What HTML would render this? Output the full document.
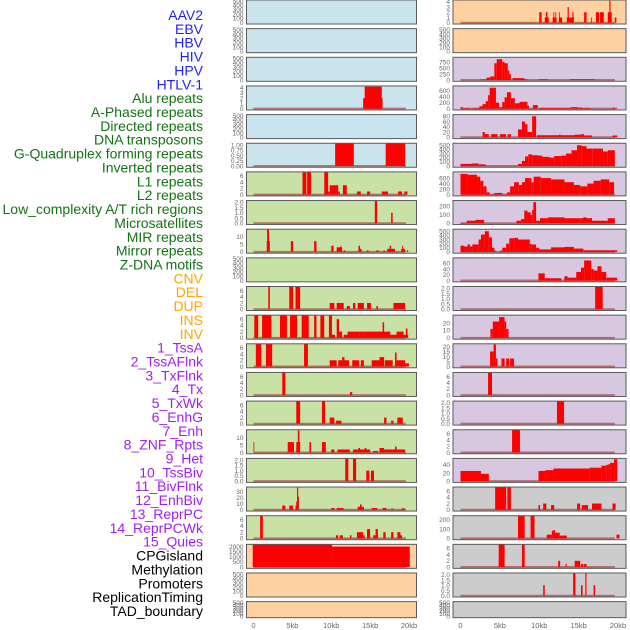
<!DOCTYPE html>
<html><head><meta charset="utf-8">
<style>
html,body{margin:0;padding:0;background:#fff;width:630px;height:630px;overflow:hidden}
svg{display:block;font-family:"Liberation Sans",sans-serif}
</style></head>
<body>
<svg id="chart" width="630" height="630" viewBox="0 0 630 630" xmlns="http://www.w3.org/2000/svg"></svg>
<script>
// ---- data ----
const labelNames = ["AAV2","EBV","HBV","HIV","HPV","HTLV-1","Alu repeats","A-Phased repeats","Directed repeats","DNA transposons","G-Quadruplex forming repeats","Inverted repeats","L1 repeats","L2 repeats","Low_complexity A/T rich regions","Microsatellites","MIR repeats","Mirror repeats","Z-DNA motifs","CNV","DEL","DUP","INS","INV","1_TssA","2_TssAFlnk","3_TxFlnk","4_Tx","5_TxWk","6_EnhG","7_Enh","8_ZNF_Rpts","9_Het","10_TssBiv","11_BivFlnk","12_EnhBiv","13_ReprPC","14_ReprPCWk","15_Quies","CPGisland","Methylation","Promoters","ReplicationTiming","TAD_boundary"];
const labelGroups = [6,13,5,15,5];
const groupColors = ["#1f1fff","#137313","#ffa500","#a020f0","#000000"];
const xTickLabels = ["0","5kb","10kb","15kb","20kb"];
const xTickValues = [0,5,10,15,20];

const T500=[0,100,200,300,400,500], T6=[0,2,4,6], T2=[0,0.5,1.0,1.5,2.0];
const T2L=["0.0","0.5","1.0","1.5","2.0"];
const leftBg = ["#c9e4ec","#c9e4ec","#c9e4ec","#c9e4ec","#c9e4ec","#c9e4ec","#c8e2a6","#c8e2a6","#c8e2a6","#c8e2a6","#c8e2a6","#c8e2a6","#c8e2a6","#c8e2a6","#c8e2a6","#c8e2a6","#c8e2a6","#c8e2a6","#c8e2a6","#ffd0a0","#ffd0a0","#ffd0a0"];
const rightBg = ["#ffd0a0","#ffd0a0","#d7c7e1","#d7c7e1","#d7c7e1","#d7c7e1","#d7c7e1","#d7c7e1","#d7c7e1","#d7c7e1","#d7c7e1","#d7c7e1","#d7c7e1","#d7c7e1","#d7c7e1","#d7c7e1","#d7c7e1","#cccccc","#cccccc","#cccccc","#cccccc","#cccccc"];

const leftTicks = [T500,T500,T500,[0,1,2,3,4],T500,[0,0.25,0.5,0.75,1.0],T6,T2,[0,5,10],T500,T6,T6,T6,T6,T6,[0,5,10],T2,[0,10,20,30],T6,[0,500,1000,1500,2000],T500,T500];
const leftTickLabels = [null,null,null,null,null,["0.00","0.25","0.50","0.75","1.00"],null,T2L,null,null,null,null,null,null,null,null,T2L,null,null,null,null,null];
const leftMax = [520,520,520,4.1,520,1.03,6.9,2.05,14,520,6.9,6.9,6.9,6.9,6.9,14.5,2.05,36,6.9,2100,520,520];
const leftEmpty = [true,true,true,false,true,false,false,false,false,true,false,false,false,false,false,false,false,false,false,false,true,true];

const L3=[[14.1,16.6,2],[14.3,16.5,4.2]];
const L5=[[10.5,12.9,1.2],[17.0,19.5,1.2]];
const L6=[[6.3,6.8,8],[6.9,7.4,8],[9.1,9.6,8],[9.6,9.8,1],[9.8,10.9,3],[10.9,11.1,1],[11.5,12.0,3],[13.3,13.8,1],[14.6,15.0,1],[16.5,17.3,1],[18.6,19.1,1],[19.4,19.8,1]];
const L7=[[15.6,15.9,2.2],[17.7,17.9,1]];
const L8=[[1.7,2.1,7],[1.75,2.0,15],[4.8,5.1,7],[7.8,8.1,7],[10.0,10.3,4],[10.7,11.4,3],[11.2,11.3,4],[11.6,11.8,1],[13.5,13.7,4],[13.7,13.9,2],[14.6,14.8,1],[15.8,16.1,1],[16.7,16.9,1],[17.2,18.2,2],[17.5,17.7,4],[19.0,19.5,2],[19.1,19.2,4],[19.7,19.9,1]];
const L10=[[1.9,2.1,8],[4.6,5.1,8],[5.4,6.0,8],[9.8,10.4,2],[10.7,11.6,2],[12.0,12.4,1],[12.8,13.1,2],[13.4,14.2,2],[14.6,15.1,2],[15.8,16.0,1],[18.0,19.5,2]];
const L11=[[0.1,0.6,8],[1.1,2.3,8],[3.4,4.3,8],[4.7,5.6,8],[6.2,7.1,8],[7.8,8.1,8],[8.6,9.1,8],[9.7,10.1,8],[10.1,10.5,1],[10.7,11.0,6],[11.0,11.4,2],[11.6,12.1,1],[12.1,13.6,2],[13.6,14.1,2],[14.1,15.5,2],[15.5,16.4,2],[16.6,16.8,5],[16.4,17.6,2],[17.6,18.4,1],[18.4,19.3,2],[19.6,19.8,3],[19.3,19.9,1]];
const L12=[[0.3,1.0,8],[1.6,2.4,8],[6.5,7.0,8],[9.8,10.7,2],[10.1,10.3,1],[10.9,12.3,2],[11.4,11.7,3],[12.7,13.6,2],[13.8,14.2,2],[15.2,16.8,2],[16.2,16.8,3],[16.9,17.9,2],[18.2,18.4,4.5],[18.4,19.5,2],[19.5,20.0,1]];
const L13=[[3.7,4.1,8],[12.4,12.7,1]];
const L14=[[5.5,6.0,8],[8.8,9.2,8],[9.8,10.4,2],[10.6,11.3,1],[16.8,17.1,2],[17.7,18.0,1],[18.5,19.2,2]];
const L15=[[0.0,0.1,7],[4.4,5.2,7],[5.5,6.0,7],[5.7,5.9,15],[7.2,7.4,7],[8.8,9.3,7],[10.0,10.4,2],[10.8,12.4,2],[12.8,15.0,2],[13.5,13.7,3],[14.3,14.5,3],[15.4,16.0,1],[16.2,16.8,3],[16.8,19.5,2],[18.2,18.4,4]];
const L16=[[11.8,12.2,2.2],[12.8,13.2,2.2],[14.5,14.9,1],[15.1,15.5,1]];
const L17=[[3.7,4.1,7],[4.6,5.1,7],[5.4,5.6,7],[5.5,5.7,14],[5.6,5.75,37],[5.75,5.85,22],[10.0,10.4,3],[10.7,11.6,3],[13.4,14.2,5],[13.7,13.9,9],[15.2,15.9,3],[16.6,17.1,3],[17.7,18.0,2],[19.0,19.5,2],[19.2,19.3,3]];
const L18=[[0.85,1.2,8],[10.6,10.9,1],[11.1,11.5,1],[12.4,12.6,1],[13.3,14.1,2],[14.1,14.3,1],[14.6,15.0,3],[15.4,15.7,1],[15.7,16.0,3],[16.7,17.0,2],[17.7,18.0,2],[18.5,18.9,2],[18.9,19.1,1]];
const L19=[[-0.1,10.1,2200],[10.1,20.1,2000]];
const leftData=[[],[],[],L3,[],L5,L6,L7,L8,[],L10,L11,L12,L13,L14,L15,L16,L17,L18,L19,[],[]];

const rightTicks=[[0,1,2,3,4],T500,[0,250,500,750],[0,200,400,600],[0,20,40,60,80],T500,[0,200,400,600],[0,100,200],T500,[0,20,40,60],T2,[0,10,20],[0,5,10,15,20],T6,T2,T6,[0,20,40],T6,[0,100,200],T6,T2,T500];
const rightTickLabels=[null,null,null,null,null,null,null,null,null,null,T2L,null,null,null,T2L,null,null,null,null,null,T2L,null];
const rightMax=[4.1,520,900,720,82,520,780,255,520,75,2.05,29,21.5,6.9,2.05,6.9,53,6.9,230,6.9,2.05,520];
const rightEmpty=[false,true,false,false,false,false,false,false,false,false,false,false,false,false,false,false,false,false,false,false,false,true];

const R0=[[10.0,10.3,2],[10.7,11.2,1],[10.85,11.05,2],[11.7,12.2,1],[11.8,11.9,2],[12.05,12.15,2],[12.5,12.9,1],[12.5,12.6,2],[13.5,13.9,1],[13.6,13.75,3],[13.9,14.4,1],[14.2,14.35,2],[15.7,16.0,2],[16.6,16.7,1],[17.2,17.6,2],[17.7,18.2,2],[18.7,19.2,2],[18.9,19.05,4.2],[19.6,19.8,1]];
const R2=[[2.5,3.3,20],[3.3,3.8,100],[3.8,4.3,150],[4.3,4.6,700],[4.6,5.3,870],[5.3,5.6,760],[5.6,6.0,700],[6.0,6.2,400],[6.2,6.4,250],[6.6,8.1,80],[8.1,8.5,30],[10.0,11.1,30],[13.9,17.1,30]];
const R3=[[0.0,0.3,50],[0.3,1.2,20],[1.6,2.4,20],[2.4,2.8,80],[2.8,3.2,150],[3.2,3.5,250],[3.5,3.7,450],[3.7,4.5,700],[4.5,4.9,200],[4.9,5.3,50],[5.3,5.6,220],[5.6,5.9,380],[5.9,6.4,550],[6.4,6.9,350],[6.9,7.5,180],[7.5,8.5,230],[8.5,8.7,100],[9.2,9.8,120],[10.0,14.0,25],[14.0,14.8,50],[14.8,15.4,40],[15.4,16.5,20],[19.3,19.9,30]];
const R4=[[2.8,3.1,20],[3.1,3.6,12],[3.9,4.7,12],[5.0,5.8,12],[6.0,6.4,12],[7.3,7.8,30],[7.8,8.2,60],[8.2,8.5,50],[8.5,9.1,20],[9.1,9.6,80],[9.7,12.5,8],[12.5,12.7,10],[12.7,14.5,8],[14.5,15.3,10],[15.3,15.7,12],[15.7,16.7,7],[19.3,19.9,7]];
const R5=[[0.0,1.4,50],[1.4,2.3,60],[2.3,3.2,40],[7.3,7.8,50],[7.8,8.2,120],[8.2,8.6,230],[8.6,9.1,280],[9.1,9.9,260],[9.9,10.4,250],[10.4,11.3,220],[11.3,11.9,200],[11.9,12.8,240],[12.8,13.4,250],[13.4,14.1,300],[14.1,14.8,380],[14.8,15.4,500],[15.4,16.0,480],[16.0,16.8,420],[16.8,18.1,420],[18.1,18.7,350],[18.7,19.6,380]];
const R6=[[0.0,0.9,750],[0.9,2.1,720],[2.1,2.5,650],[2.5,2.9,500],[2.9,3.3,300],[3.3,3.7,80],[3.7,4.3,10],[4.3,5.3,60],[5.3,5.9,10],[5.9,6.3,80],[6.3,6.8,300],[6.8,7.4,450],[7.4,7.8,350],[7.8,8.2,450],[8.2,9.0,600],[9.0,9.3,450],[9.3,10.2,650],[10.2,11.5,600],[11.5,13.2,550],[13.2,14.4,450],[14.4,15.2,350],[15.2,16.1,300],[16.1,16.9,400],[16.9,17.8,500],[17.8,18.9,550],[18.9,19.5,450]];
const R7=[[0.0,0.8,5],[0.8,1.9,30],[1.9,3.0,40],[7.1,7.7,30],[7.7,8.1,50],[8.1,8.5,150],[8.5,8.9,130],[8.9,9.1,100],[9.1,9.25,160],[9.25,9.6,250],[9.6,10.1,30],[10.1,11.1,60],[11.1,13.2,70],[13.2,15.2,60],[15.2,16.7,60],[15.6,16.0,70],[16.7,18.7,30],[18.7,19.6,60]];
const R8=[[0.0,0.5,150],[0.5,0.9,130],[0.9,1.2,180],[1.2,1.5,130],[1.5,2.3,180],[2.3,2.6,300],[2.6,3.1,420],[3.1,3.6,500],[3.6,4.0,350],[4.0,4.3,100],[4.3,4.5,30],[5.0,5.3,30],[5.3,5.8,100],[5.8,6.2,200],[6.2,6.9,330],[6.9,7.3,340],[7.3,8.8,300],[8.8,9.0,200],[9.0,9.6,180],[9.6,10.0,100],[10.0,11.5,60],[11.5,13.2,110],[13.2,14.4,120],[14.4,15.6,80],[15.6,19.9,40]];
const R9=[[9.9,10.7,25],[10.7,12.8,8],[13.2,13.6,15],[13.6,14.7,10],[14.7,15.3,30],[15.3,15.7,45],[15.7,16.6,70],[16.6,16.9,40],[16.9,17.4,35],[17.4,17.9,50],[17.9,18.5,30],[18.5,19.9,10]];
const R10=[[17.1,18.05,2.2]];
const R11=[[3.8,4.1,12],[4.1,4.9,22],[4.9,5.6,28],[5.6,5.8,22],[5.8,6.1,12]];
const R12=[[3.75,4.2,15],[4.2,4.5,22],[4.5,4.7,8],[5.2,5.6,8],[5.8,6.2,8],[6.3,6.8,8]];
const R13=[[3.5,4.0,8]];
const R14=[[12.25,13.15,2.2]];
const R15=[[6.55,7.55,8]];
const R16=[[0.0,2.6,25],[2.6,3.6,18],[9.9,10.8,25],[10.8,11.8,27],[11.8,16.4,31],[16.4,17.9,33],[17.9,18.5,38],[18.5,18.8,40],[18.8,19.0,42],[19.0,19.5,45],[19.5,19.9,54]];
const R17=[[4.4,5.8,8],[5.95,6.4,8],[9.9,10.1,1.5],[10.5,10.9,2],[11.5,11.9,1.5],[14.8,15.2,2],[15.4,16.2,1.5],[16.7,17.9,2],[19.3,19.7,2]];
const R18=[[7.3,8.15,300],[8.9,9.4,300],[10.95,11.6,40],[11.6,11.8,80],[11.8,12.0,90],[12.0,12.6,60],[12.6,13.5,30],[19.8,20.2,40]];
const R19=[[4.85,5.6,8],[7.8,8.15,8],[12.4,12.65,2],[13.35,13.5,1],[14.5,15.2,2],[15.3,15.6,1],[15.7,16.0,1]];
const R20=[[10.5,10.7,1],[14.3,14.6,2.2],[15.3,15.5,1],[15.85,16.0,2.2],[16.9,17.1,1]];
const rightData=[R0,[],R2,R3,R4,R5,R6,R7,R8,R9,R10,R11,R12,R13,R14,R15,R16,R17,R18,R19,R20,[]];

// ---- drawing ----
const NS="http://www.w3.org/2000/svg";
const svg=document.getElementById("chart");
function mk(tag,attrs,parent){const e=document.createElementNS(NS,tag);for(const k in attrs)e.setAttribute(k,attrs[k]);(parent||svg).appendChild(e);return e;}

const ROW=28.65, PH=24;
function rowTop(i){return i*ROW;}
function rowH(i){return i===21?16:PH;}
const cols=[{x0:246.5,x1:416.5,z0:253.5,z20:409},{x0:453,x1:626,z0:460.5,z20:618}];

// labels
let li=0;
labelGroups.forEach((n,g)=>{
  for(let k=0;k<n;k++){
    const t=mk("text",{x:203,y:15+li*13.86+5,"text-anchor":"end","font-size":"14",fill:groupColors[g]});
    
    
    t.textContent=labelNames[li];li++;
  }
});

function drawPanel(ci,i,bg,ticks,tlabels,ymax,data,empty){
  const c=cols[ci],top=rowTop(i),h=rowH(i),bot=top+h;
  const g=mk("g",{});
  
  
  const clipId="clip"+ci+"_"+i;
  const cp=mk("clipPath",{id:clipId},g);mk("rect",{x:c.x0,y:top,width:c.x1-c.x0,height:h},cp);
  const bgR=mk("rect",{x:c.x0,y:top,width:c.x1-c.x0,height:h,fill:bg},g);
  
  
  const xs=kb=>c.z0+(c.z20-c.z0)*kb/20;
  const y0=bot-1.3, yT=top+1.2;
  const ys=v=>y0-(y0-yT)*v/ymax;
  const inner=mk("g",{"clip-path":"url(#"+clipId+")"},g);
  if(!empty){
    const bl=mk("line",{x1:xs(0),x2:xs(19.6),y1:y0,y2:y0,stroke:"#a03030","stroke-width":2,"stroke-opacity":0.6},inner);
    
    
  }
  data.forEach(d=>{
    const yy=ys(d[2]);
    const r=mk("rect",{x:xs(d[0]),y:yy,width:Math.max(0.8,xs(d[1])-xs(d[0])),height:Math.max(0,y0-yy),fill:"#ff0000"},inner);
    
    
  });
  const bd=mk("rect",{x:c.x0,y:top,width:c.x1-c.x0,height:h,fill:"none",stroke:"#5a5a5a","stroke-width":1},g);
  
  
  const tmax=ticks[ticks.length-1];
  const tys=v=>y0-(y0-yT)*v/ymax;
  ticks.forEach((v,k)=>{
    let ty=empty? (y0-(y0-top-1)*v/tmax) : tys(v);
    const t=mk("text",{x:c.x0-3,y:ty+2.3,"text-anchor":"end","font-size":"6.5",fill:"#666"},g);
    
    
    t.textContent=tlabels?tlabels[k]:String(v);
  });
}
for(let i=0;i<22;i++){
  drawPanel(0,i,leftBg[i],leftTicks[i],leftTickLabels[i],leftMax[i],leftData[i],leftEmpty[i]);
  drawPanel(1,i,rightBg[i],rightTicks[i],rightTickLabels[i],rightMax[i],rightData[i],rightEmpty[i]);
}
cols.forEach(c=>{
  xTickValues.forEach((v,k)=>{
    const t=mk("text",{x:c.z0+(c.z20-c.z0)*v/20,y:628,"text-anchor":"middle","font-size":"7.5",fill:"#666"});
    
    
    t.textContent=xTickLabels[k];
  });
});
</script>
</body></html>
